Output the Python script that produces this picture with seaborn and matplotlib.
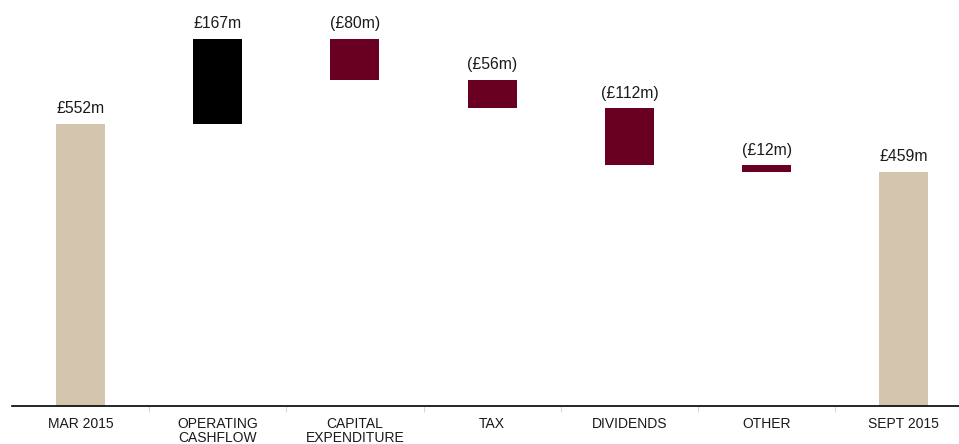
import matplotlib
matplotlib.use("Agg")
import matplotlib.pyplot as plt
import seaborn as sns
import numpy as np

# Net cash movement, £m
categories = ["MAR 2015", "OPERATING\nCASHFLOW", "CAPITAL\nEXPENDITURE", "TAX",
              "DIVIDENDS", "OTHER", "SEPT 2015"]
changes = [552, 167, -80, -56, -112, -12, 459]
kinds = ["total", "up", "down", "down", "down", "down", "total"]
value_labels = ["£552m", "£167m", "(£80m)", "(£56m)", "(£112m)", "(£12m)", "£459m"]

palette = {"total": "#D4C5AF", "up": "#000000", "down": "#6A0021"}

# Floating bar geometry of the waterfall
bottoms, heights = [], []
level = 0
for v, k in zip(changes, kinds):
    if k == "total":
        bottoms.append(0)
        heights.append(v)
        level = v
    else:
        lo = min(level, level + v)
        bottoms.append(lo)
        heights.append(abs(v))
        level += v

sns.set_theme(style="white")
plt.rcParams["font.family"] = ["Liberation Sans", "DejaVu Sans"]

fig = plt.figure(figsize=(9.59, 4.44), dpi=100)
ax = fig.add_axes([12 / 959, 38 / 444, 947 / 959, 406 / 444])

x = np.arange(len(categories))
sns.barplot(x=x, y=heights, bottom=bottoms, width=0.357, native_scale=True,
            color="#000000", saturation=1, ax=ax)
for patch, k in zip(ax.patches, kinds):
    patch.set_facecolor(palette[k])
    patch.set_edgecolor("none")

for i, (b, h, lab) in enumerate(zip(bottoms, heights, value_labels)):
    ax.annotate(lab, (i, b + h), xytext=(0, 5.5), textcoords="offset points",
                ha="center", va="bottom", fontsize=11.3, color="#1a1a1a")

ax.set_xlim(-0.5, 6.403)
ax.set_ylim(0, 795)
ax.set_xticks(x)
ax.set_xticklabels(categories, fontsize=10, color="#1a1a1a", linespacing=1.0)
ax.set_xticks(x[:-1] + 0.5, minor=True)
ax.tick_params(axis="x", which="major", length=0, pad=8)
ax.tick_params(axis="x", which="minor", length=4, width=0.8, color="#D9D9D9",
               bottom=True, direction="out")
ax.set_yticks([])
ax.set_xlabel("")
ax.set_ylabel("")
for s in ["top", "right", "left"]:
    ax.spines[s].set_visible(False)
ax.spines["bottom"].set_color("#000000")
ax.spines["bottom"].set_linewidth(1.2)

fig.savefig("out.png", dpi=100)
